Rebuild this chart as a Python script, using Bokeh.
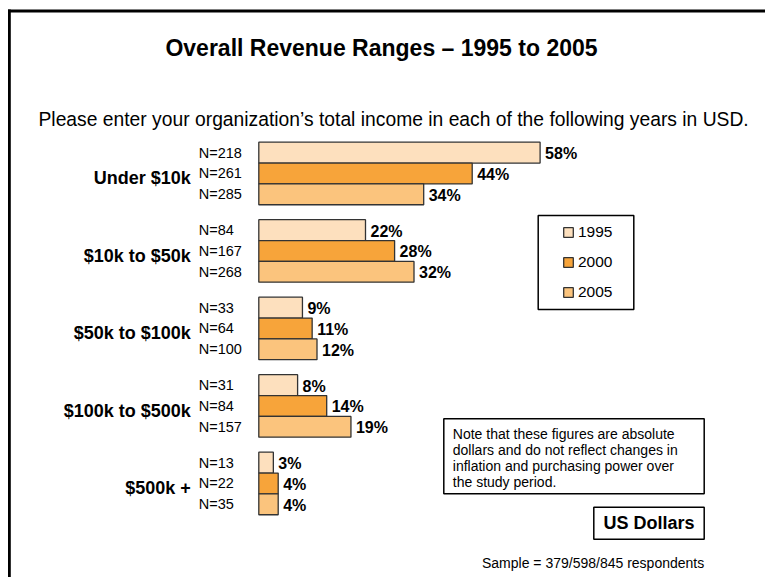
from bokeh.plotting import figure
from bokeh.models import Range1d, Label, BoxAnnotation, Legend, LegendItem, ColumnDataSource
from bokeh.embed import file_html
from bokeh.resources import INLINE
from bokeh.core.properties import value

# ---------------- data ----------------
categories = ["Under $10k", "$10k to $50k", "$50k to $100k", "$100k to $500k", "$500k +"]
years = ["1995", "2000", "2005"]
pct_1995 = [58, 22, 9, 8, 3]
pct_2000 = [44, 28, 11, 14, 4]
pct_2005 = [34, 32, 12, 19, 4]
n_1995 = [218, 84, 33, 31, 13]
n_2000 = [261, 167, 64, 84, 22]
n_2005 = [285, 268, 100, 157, 35]
colors = ["#FDE0BE", "#F7A43A", "#FBC47D"]

title_text = "Overall Revenue Ranges \u2013 1995 to 2005"
subtitle_text = "Please enter your organization\u2019s total income in each of the following years in USD."
note_lines = [
    "Note that these figures are absolute",
    "dollars and do not reflect changes in",
    "inflation and purchasing power over",
    "the study period.",
]
unit_text = "US Dollars"
sample_text = "Sample = 379/598/845 respondents"

# ---------------- layout ----------------
W, H = 765, 577
FONT = "Liberation Sans"
PX_PER_PCT = 4.85
ZERO_X = 258.3          # canvas px of the 0% line
BAR_PX = 20.85          # bar thickness in px
GROUP_STEP = 77.5 / BAR_PX
FIRST_BAR_Y = 152.1     # canvas px (from top) of first bar centre

y_top = -FIRST_BAR_Y / BAR_PX
x_range = Range1d(-ZERO_X / PX_PER_PCT, (W - ZERO_X) / PX_PER_PCT)
y_range = Range1d(start=y_top + H / BAR_PX, end=y_top)

p = figure(width=W, height=H, x_range=x_range, y_range=y_range,
           output_backend="svg", toolbar_location=None,
           x_axis_location=None, y_axis_location=None, min_border=0,
           outline_line_color=None, background_fill_color="white",
           border_fill_color="white")
p.grid.visible = False

series = [pct_1995, pct_2000, pct_2005]
ns = [n_1995, n_2000, n_2005]

renderers = []
for s, (vals, nvals) in enumerate(zip(series, ns)):
    src = ColumnDataSource(dict(
        y=[g * GROUP_STEP + s for g in range(len(categories))],
        v=vals,
        vlab=[f"{v}%" for v in vals],
        nlab=[f"N={n}" for n in nvals],
        zero=[0] * len(vals),
    ))
    r = p.hbar(y="y", left=0, right="v", height=1.0, source=src,
               fill_color=colors[s], line_color="#333333", line_width=1.3)
    renderers.append(r)
    p.text(x="v", y="y", text="vlab", source=src, x_offset=5, y_offset=1,
           text_font=value(FONT), text_font_size="16px", text_font_style="bold",
           text_align="left", text_baseline="middle", text_color="black")
    p.text(x="zero", y="y", text="nlab", source=src, x_offset=-60,
           text_font=value(FONT), text_font_size="14.5px",
           text_align="left", text_baseline="middle", text_color="black")

cat_src = ColumnDataSource(dict(
    y=[g * GROUP_STEP + 1 for g in range(len(categories))],
    zero=[0] * len(categories),
    cat=categories,
))
p.text(x="zero", y="y", text="cat", source=cat_src, x_offset=-68, y_offset=5,
       text_font=value(FONT), text_font_size="18px", text_font_style="bold",
       text_align="right", text_baseline="middle", text_color="black")

# ---------------- frame border (top & left) ----------------
p.add_layout(BoxAnnotation(left=7.5, right=10.3, top=H - 9, left_units="screen",
                           right_units="screen", top_units="screen",
                           fill_color="black", fill_alpha=1, line_alpha=0))
p.add_layout(BoxAnnotation(left=7.5, bottom=H - 12, top=H - 9, left_units="screen",
                           bottom_units="screen", top_units="screen",
                           fill_color="black", fill_alpha=1, line_alpha=0))

# ---------------- titles ----------------
p.add_layout(Label(x=381, y=H - 47, x_units="screen", y_units="screen", text=title_text,
                   text_font=FONT, text_font_size="23px", text_font_style="bold",
                   text_align="center", text_baseline="middle", text_color="black"))
p.add_layout(Label(x=38, y=H - 119, x_units="screen", y_units="screen", text=subtitle_text,
                   text_font=FONT, text_font_size="19.3px",
                   text_align="left", text_baseline="middle", text_color="black"))


def framed_box(left, right, top, bottom):
    return BoxAnnotation(left=left, right=right, bottom=H - bottom, top=H - top,
                         left_units="screen", right_units="screen",
                         bottom_units="screen", top_units="screen",
                         fill_color="white", fill_alpha=1,
                         line_color="black", line_alpha=1, line_width=1.5)


# ---------------- legend ----------------
p.add_layout(framed_box(537.7, 633.3, 215, 309))
legend = Legend(items=[LegendItem(label=years[s], renderers=[renderers[s]]) for s in range(3)],
                location=(562, H - 301.7), padding=0, margin=0, spacing=10,
                label_height=20, glyph_height=12, glyph_width=12, label_standoff=4,
                border_line_alpha=0, background_fill_alpha=0,
                label_text_font=FONT, label_text_font_size="15.5px",
                label_text_color="black")
p.add_layout(legend)

# ---------------- note box ----------------
p.add_layout(framed_box(443.3, 703.7, 418.3, 493.3))
for i, line in enumerate(note_lines):
    p.add_layout(Label(x=452.3, y=H - (433 + 16 * i), x_units="screen", y_units="screen",
                       text=line, text_font=FONT, text_font_size="14px",
                       text_align="left", text_baseline="middle", text_color="black"))

# ---------------- US Dollars box ----------------
p.add_layout(framed_box(593.3, 703.7, 506.7, 538.7))
p.add_layout(Label(x=648.5, y=H - 522.5, x_units="screen", y_units="screen", text=unit_text,
                   text_font=FONT, text_font_size="18px", text_font_style="bold",
                   text_align="center", text_baseline="middle", text_color="black"))

# ---------------- sample ----------------
p.add_layout(Label(x=703.7, y=H - 562, x_units="screen", y_units="screen", text=sample_text,
                   text_font=FONT, text_font_size="14px",
                   text_align="right", text_baseline="middle", text_color="black"))

open("out.html", "w").write(file_html(p, INLINE))
